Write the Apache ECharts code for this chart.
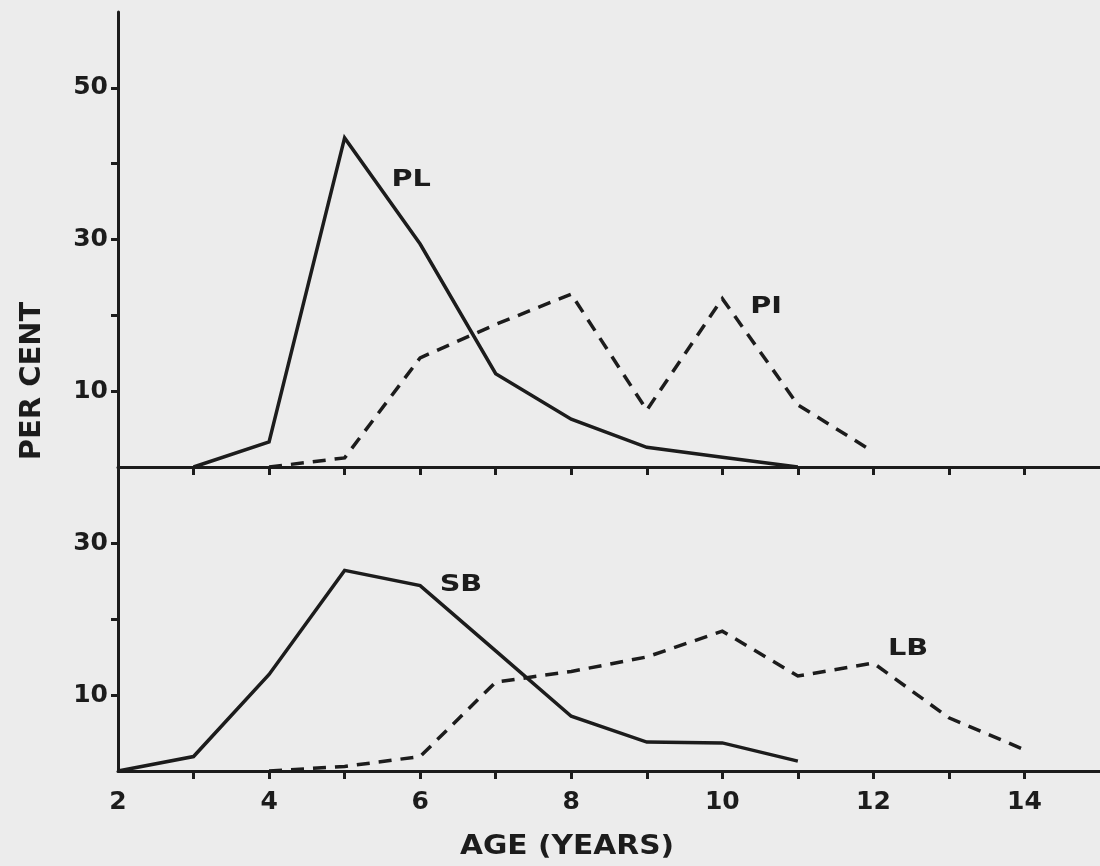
<!DOCTYPE html>
<html>
<head>
<meta charset="utf-8">
<script src="https://cdn.jsdelivr.net/npm/echarts@6/dist/echarts.min.js"></script>
<style>
  html, body { margin: 0; padding: 0; background: #ececec; }
  #chart { width: 1100px; height: 866px; }
</style>
</head>
<body>
<div id="chart"></div>
<script>
// ---- Data ----
const plAges   = [3, 4, 5, 6, 7, 8, 9, 10, 11];
const plValues = [0, 3.3, 43.4, 29.4, 12.3, 6.3, 2.6, 1.3, 0];

const piAges   = [4, 5, 6, 7, 8, 9, 10, 11, 12];
const piValues = [0, 1.2, 14.4, 18.8, 22.8, 7.5, 22.2, 8.2, 2.0];

const sbAges   = [2, 3, 4, 5, 6, 7, 8, 9, 10, 11];
const sbValues = [0, 1.9, 12.7, 26.4, 24.4, 15.8, 7.2, 3.8, 3.7, 1.3];

const lbAges   = [4, 5, 6, 7, 8, 9, 10, 11, 12, 13, 14];
const lbValues = [0, 0.6, 1.9, 11.7, 13.1, 15.0, 18.4, 12.5, 14.2, 7.0, 2.8];

const xTickValues    = [3, 4, 5, 6, 7, 8, 9, 10, 11, 12, 13, 14];
const xLabelValues   = [2, 4, 6, 8, 10, 12, 14];
const upperTickVals  = [10, 20, 30, 40, 50];
const upperLabelVals = [10, 30, 50];
const lowerTickVals  = [10, 20, 30];
const lowerLabelVals = [10, 30];

const curveNames = ['PL', 'PI', 'SB', 'LB'];
const curveLabelAge = [5.88, 10.58, 6.54, 12.46];
const curveLabelPct = [37.9, 21.1, 24.5, 16.0];
const curveLabelPanel = [0, 0, 1, 1];

const xTitle = 'AGE (YEARS)';
const yTitle = 'PER CENT';

// ---- Styling ----
const ink = '#1c1c1c';
const fontFam = '"DejaVu Sans", "Liberation Sans", sans-serif';
const zip = (a, b) => a.map((v, i) => [v, b[i]]);

function xAxisCfg(grid, showLabels) {
  return {
    type: 'value', gridIndex: grid, min: 2, max: 15, interval: 1,
    axisLine: { show: true, onZero: false, lineStyle: { color: ink, width: 3 } },
    axisTick: { show: true, customValues: xTickValues, length: 8, lineStyle: { color: ink, width: 3 } },
    axisLabel: showLabels ? {
      show: true, customValues: xLabelValues, margin: 19,
      color: ink, fontSize: 25, fontWeight: 'bold', fontFamily: fontFam
    } : { show: false },
    splitLine: { show: false }
  };
}
function yAxisCfg(grid, max, ticks, labels) {
  return {
    type: 'value', gridIndex: grid, min: 0, max: max, interval: 10,
    axisLine: { show: true, onZero: false, lineStyle: { color: ink, width: 3 } },
    axisTick: { show: true, customValues: ticks, length: 7, lineStyle: { color: ink, width: 3 } },
    axisLabel: {
      show: true, customValues: labels, margin: 10, padding: [7, 0, 0, 0],
      color: ink, fontSize: 25, fontWeight: 'bold', fontFamily: fontFam
    },
    splitLine: { show: false }
  };
}
function lineSeries(name, ages, vals, grid, dashed) {
  return {
    type: 'line', name: name, xAxisIndex: grid, yAxisIndex: grid,
    data: zip(ages, vals), symbol: 'none', smooth: false, silent: true,
    lineStyle: { color: ink, width: 3.5, type: dashed ? [13, 9] : 'solid', cap: 'butt', join: 'miter' }
  };
}

const chart = echarts.init(document.getElementById('chart'), null, { renderer: 'canvas' });
const option = {
  animation: false,
  backgroundColor: '#ececec',
  grid: [
    { left: 118, top: 12, width: 982, height: 455 },
    { left: 118, top: 467, width: 982, height: 304 }
  ],
  xAxis: [xAxisCfg(0, false), xAxisCfg(1, true)],
  yAxis: [
    yAxisCfg(0, 60, upperTickVals, upperLabelVals),
    yAxisCfg(1, 40, lowerTickVals, lowerLabelVals)
  ],
  series: [
    lineSeries('PL', plAges, plValues, 0, false),
    lineSeries('PI', piAges, piValues, 0, true),
    lineSeries('SB', sbAges, sbValues, 1, false),
    lineSeries('LB', lbAges, lbValues, 1, true)
  ]
};
chart.setOption(option);

// Curve labels positioned through the chart's own coordinate systems
const graphics = curveNames.map((name, i) => {
  const p = chart.convertToPixel({ gridIndex: curveLabelPanel[i] }, [curveLabelAge[i], curveLabelPct[i]]);
  return {
    type: 'text', x: p[0], y: p[1], scaleX: 1.25, silent: true,
    style: {
      text: name, fill: ink, font: 'bold 23px ' + fontFam,
      textAlign: 'center', textVerticalAlign: 'middle', align: 'center', verticalAlign: 'middle'
    }
  };
});
graphics.push({
  type: 'text', x: 567, y: 847, scaleX: 1.1, silent: true,
  style: {
    text: xTitle, fill: ink, font: 'bold 27px ' + fontFam,
    textAlign: 'center', textVerticalAlign: 'middle', align: 'center', verticalAlign: 'middle'
  }
});
graphics.push({
  type: 'text', x: 32, y: 381, rotation: Math.PI / 2, silent: true,
  style: {
    text: yTitle, fill: ink, font: 'bold 29px ' + fontFam,
    textAlign: 'center', textVerticalAlign: 'middle', align: 'center', verticalAlign: 'middle'
  }
});
chart.setOption({ graphic: graphics });
</script>
</body>
</html>
